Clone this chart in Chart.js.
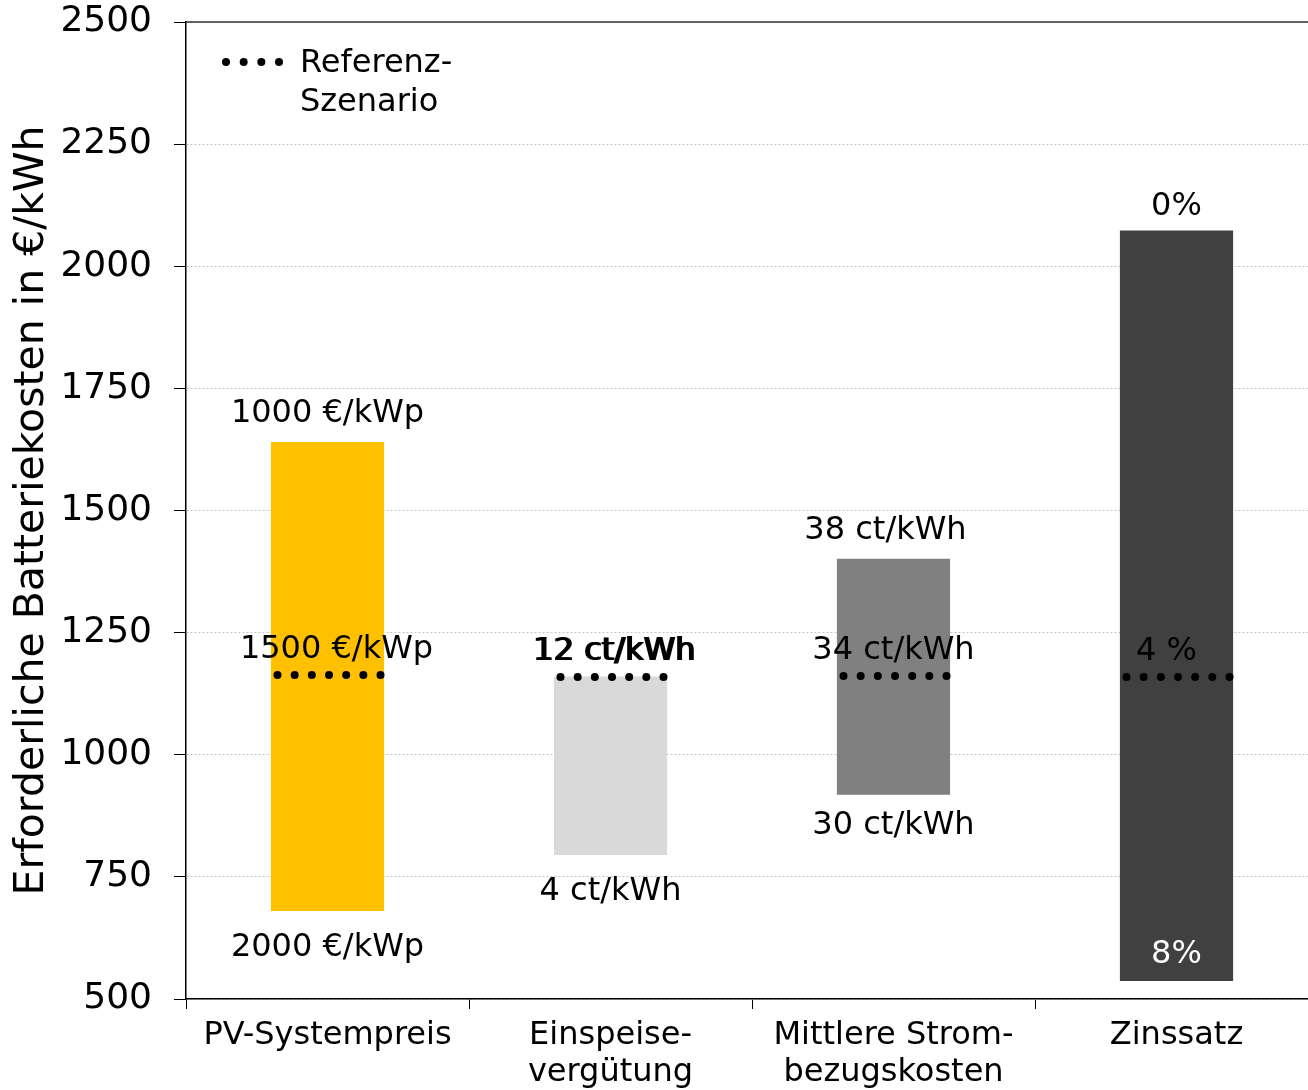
<!DOCTYPE html>
<html lang="de">
<head>
    <meta charset="UTF-8">
    <title>Erforderliche Batteriekosten</title>
    <script src="https://cdn.jsdelivr.net/npm/chart.js"></script>
    <style>
        body {
            margin: 0;
            padding: 0;
            background: white;
            overflow: hidden;
        }
        .container {
            width: 1318px;
            height: 1090px;
        }
    </style>
</head>
<body>
    <div class="container">
        <canvas id="costChart"></canvas>
    </div>

    <script>
        const categories = [['PV-Systempreis'], ['Einspeise-', 'vergütung'], ['Mittlere Strom-', 'bezugskosten'], ['Zinssatz']];
        const lowValues = [680, 795, 918, 537];
        const highValues = [1640, 1160, 1401, 2073];
        const referenceValues = [1163, 1159, 1161, 1159];
        const topLabels = ['1000 €/kWp', '', '38 ct/kWh', '0%'];
        const bottomLabels = ['2000 €/kWp', '4 ct/kWh', '30 ct/kWh', '8%'];
        const referenceLabels = ['1500 €/kWp', '12 ct/kWh', '34 ct/kWh', '4 %'];
        const barColors = ['#FFC000', '#D9D9D9', '#808080', '#404040'];
        const yTicks = [500, 750, 1000, 1250, 1500, 1750, 2000, 2250, 2500];

        const FONT = '"DejaVu Sans", Verdana, sans-serif';

        function drawDots(ctx, x1, x2, y, n) {
            const step = (x2 - x1) / (n - 1);
            ctx.fillStyle = '#000';
            for (let i = 0; i < n; i++) {
                ctx.beginPath();
                ctx.arc(x1 + i * step, y, 4, 0, Math.PI * 2);
                ctx.fill();
            }
        }

        const annotations = {
            id: 'annotations',
            afterDatasetsDraw(chart) {
                const ctx = chart.ctx;
                const area = chart.chartArea;
                const x = chart.scales.x;
                const y = chart.scales.y;
                const bars = chart.getDatasetMeta(0).data;

                ctx.save();
                // top frame line
                ctx.strokeStyle = '#333';
                ctx.lineWidth = 1.5;
                ctx.beginPath();
                ctx.moveTo(area.left, area.top);
                ctx.lineTo(area.right, area.top);
                ctx.stroke();

                ctx.font = '32px ' + FONT;
                ctx.textAlign = 'center';
                ctx.textBaseline = 'middle';

                bars.forEach((bar, i) => {
                    const cx = x.getPixelForValue(i);
                    const top = y.getPixelForValue(highValues[i]);
                    const bottom = y.getPixelForValue(lowValues[i]);
                    const ref = y.getPixelForValue(referenceValues[i]);

                    // reference scenario dots
                    drawDots(ctx, cx - 50, cx + 53, ref, 7);

                    ctx.fillStyle = '#000';
                    if (i === 1) {
                        // overprinted label, as in the original
                        ctx.fillText(referenceLabels[i], cx + 3, ref - 25);
                        ctx.fillText(referenceLabels[i], cx + 5, ref - 25);
                    } else {
                        ctx.fillText(referenceLabels[i], cx + (i === 0 ? 9 : i === 3 ? -10 : 0), ref - 25);
                    }

                    if (topLabels[i]) {
                        ctx.fillText(topLabels[i], cx + (i === 2 ? -8 : 0), top - (i === 3 ? 24 : 28));
                    }
                    if (i === 3) {
                        ctx.fillStyle = '#fff';
                        ctx.fillText(bottomLabels[i], cx, bottom - 26);
                    } else {
                        ctx.fillText(bottomLabels[i], cx, bottom + (i === 2 ? 31 : 37));
                    }
                });

                // legend
                drawDots(ctx, area.left + 40, area.left + 93, area.top + 40, 4);
                ctx.fillStyle = '#000';
                ctx.textAlign = 'left';
                ctx.font = '32px ' + FONT;
                ctx.fillText('Referenz-', area.left + 114, area.top + 42);
                ctx.fillText('Szenario', area.left + 114, area.top + 81);
                ctx.restore();
            }
        };

        const ctx = document.getElementById('costChart').getContext('2d');
        new Chart(ctx, {
            type: 'bar',
            data: {
                labels: categories,
                datasets: [{
                    data: lowValues.map((v, i) => [v, highValues[i]]),
                    backgroundColor: barColors,
                    borderWidth: 0,
                    barPercentage: 0.4,
                    categoryPercentage: 1.0
                }]
            },
            options: {
                responsive: true,
                maintainAspectRatio: false,
                animation: false,
                layout: {
                    padding: { top: 22, right: 0, left: 0, bottom: 0 }
                },
                plugins: {
                    legend: { display: false },
                    tooltip: { enabled: false }
                },
                scales: {
                    x: {
                        afterFit(scale) {
                            scale.height = 91;
                        },
                        grid: {
                            offset: true,
                            drawOnChartArea: false,
                            tickLength: 10,
                            tickColor: '#000'
                        },
                        border: { color: '#000', width: 1.5 },
                        ticks: {
                            color: '#000',
                            padding: 8,
                            maxRotation: 0,
                            font: { family: FONT, size: 32, lineHeight: 1.15 }
                        }
                    },
                    y: {
                        min: 500,
                        max: 2500,
                        afterBuildTicks(scale) {
                            scale.ticks = yTicks.map(v => ({ value: v }));
                        },
                        afterFit(scale) {
                            scale.width = 186;
                            scale.paddingTop = 0;
                            scale.paddingBottom = 0;
                        },
                        grid: {
                            color: '#c4c4c4',
                            lineWidth: 1,
                            tickLength: 12,
                            tickColor: '#000'
                        },
                        border: { color: '#000', width: 1.5, dash: [2, 2] },
                        ticks: {
                            color: '#000',
                            padding: 22,
                            font: { family: FONT, size: 36 },
                            callback: v => String(v)
                        },
                        title: {
                            display: true,
                            text: 'Erforderliche Batteriekosten in €/kWh',
                            color: '#000',
                            padding: { top: 8, bottom: 0 },
                            font: { family: FONT, size: 41 }
                        }
                    }
                }
            },
            plugins: [annotations]
        });
    </script>
</body>
</html>
